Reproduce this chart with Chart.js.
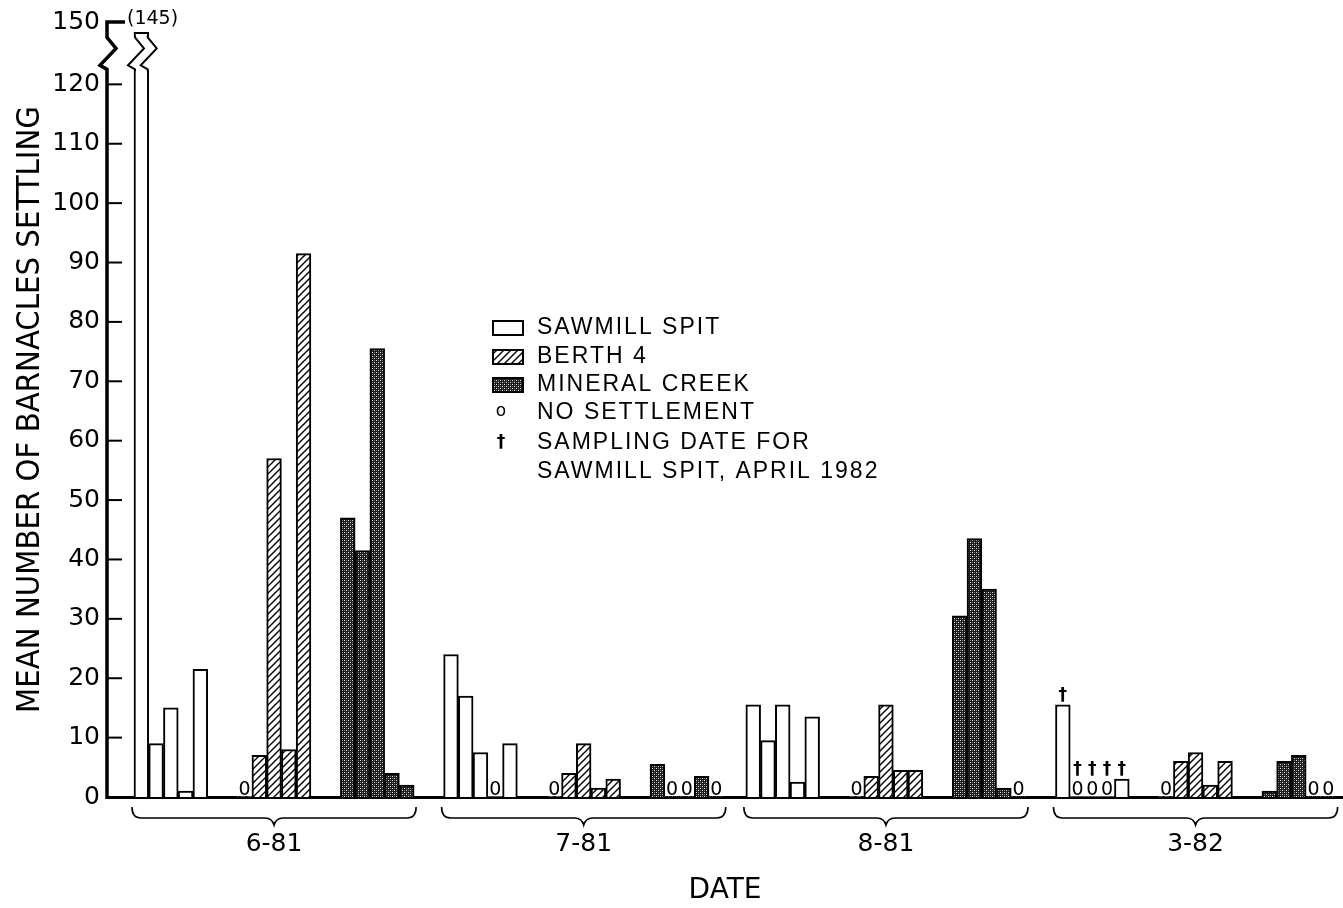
<!DOCTYPE html>
<html>
<head>
<meta charset="utf-8">
<title>Barnacle settlement</title>
<script src="https://cdn.jsdelivr.net/npm/chart.js@4.4.0/dist/chart.umd.min.js"></script>
<style>
  html, body { margin: 0; padding: 0; background: #fff; }
  canvas { display: block; }
</style>
</head>
<body>
<canvas id="chart" width="1343" height="908"></canvas>
<script>
const dates = ["6-81", "7-81", "8-81", "3-82"];
const stations = ["SAWMILL SPIT", "BERTH 4", "MINERAL CREEK"];

// five panels per station and date, mean count per panel
const sawmillSpit = [
  [145, 9, 15, 1, 21.5],
  [24, 17, 7.5, 0, 9],
  [15.5, 9.5, 15.5, 2.5, 13.5],
  [15.5, 0, 0, 0, 3],
];
const berth4 = [
  [0, 7, 57, 8, 91.5],
  [0, 4, 9, 1.5, 3],
  [0, 3.5, 15.5, 4.5, 4.5],
  [0, 6, 7.5, 2, 6],
];
const mineralCreek = [
  [47, 41.5, 75.5, 4, 2],
  [5.5, 0, 0, 3.5, 0],
  [30.5, 43.5, 35, 1.5, 0],
  [1, 6, 7, 0, 0],
];
// sawmill spit panels of 3-82 were collected in april 1982
const sampledApril1982 = [true, true, true, true, true];

const yTicks = [0, 10, 20, 30, 40, 50, 60, 70, 80, 90, 100, 110, 120, 150];
const yBreak = 120;
const yTop = 150;
const yTitle = "MEAN NUMBER OF BARNACLES SETTLING";
const xTitle = "DATE";
const legendLabels = ["SAWMILL SPIT", "BERTH 4", "MINERAL CREEK", "NO SETTLEMENT",
  "SAMPLING DATE FOR", "SAWMILL SPIT, APRIL 1982"];

// slot layout along the x axis
const perStation = 5;
const stationGap = 2;
const dateGaps = [2, 1.5, 2];

function slotOf(d, s, i) {
  let start = 0;
  for (let k = 0; k < d; k++) start += 3 * perStation + 2 * stationGap + dateGaps[k];
  return start + s * (perStation + stationGap) + i;
}

function toPoints(values, s) {
  const pts = [];
  values.forEach((row, d) => {
    row.forEach((v, i) => pts.push({ x: slotOf(d, s, i) + 0.5, y: v, date: d, rep: i }));
  });
  return pts;
}

// values above the break are squeezed into the short top segment
const squash = (v) => (v <= yBreak ? v : yBreak + (v - yBreak) * 0.35);
const unsquash = (v) => (v <= yBreak ? v : yBreak + (v - yBreak) / 0.35);

class BrokenScale extends Chart.LinearScale {
  getPixelForValue(value) {
    const lo = squash(this.min), hi = squash(this.max);
    return this.getPixelForDecimal((squash(value) - lo) / (hi - lo));
  }
  getValueForPixel(pixel) {
    const lo = squash(this.min), hi = squash(this.max);
    return unsquash(lo + this.getDecimalForPixel(pixel) * (hi - lo));
  }
}
BrokenScale.id = "broken";
BrokenScale.defaults = Chart.LinearScale.defaults;
Chart.register(BrokenScale);

function makeHatch() {
  const c = document.createElement("canvas");
  c.width = c.height = 7;
  const g = c.getContext("2d");
  g.fillStyle = "#fff";
  g.fillRect(0, 0, 7, 7);
  g.strokeStyle = "#000";
  g.lineWidth = 1.4;
  g.beginPath();
  g.moveTo(0, 7); g.lineTo(7, 0);
  g.moveTo(-1, 1); g.lineTo(1, -1);
  g.moveTo(6, 8); g.lineTo(8, 6);
  g.stroke();
  return g.createPattern(c, "repeat");
}

function makeDots() {
  const c = document.createElement("canvas");
  c.width = c.height = 4;
  const g = c.getContext("2d");
  g.fillStyle = "#1c1c1c";
  g.fillRect(0, 0, 4, 4);
  g.fillStyle = "#e0e0e0";
  g.fillRect(0, 0, 1, 1);
  g.fillRect(2, 2, 1, 1);
  g.fillStyle = "#7a7a7a";
  g.fillRect(2, 0, 1, 1);
  g.fillRect(0, 2, 1, 1);
  return g.createPattern(c, "repeat");
}

const fills = ["#fff", makeHatch(), makeDots()];
const numFont = '"DejaVu Sans", sans-serif';
const textFont = '"Liberation Sans", Arial, sans-serif';

// zigzag used to mark a break on a vertical edge (dx, dy from the lower end)
const zig = [[0, 0], [-7, -4], [9, -21], [0, -32]];

function drawBrace(ctx, x1, x2, y) {
  const h = 11, r = 9, mid = (x1 + x2) / 2;
  ctx.beginPath();
  ctx.moveTo(x1, y);
  ctx.quadraticCurveTo(x1, y + h, x1 + r, y + h);
  ctx.lineTo(mid - 9, y + h);
  ctx.quadraticCurveTo(mid - 2, y + h, mid, y + h + 7);
  ctx.quadraticCurveTo(mid + 2, y + h, mid + 9, y + h);
  ctx.lineTo(x2 - r, y + h);
  ctx.quadraticCurveTo(x2, y + h, x2, y);
  ctx.stroke();
}

const decorations = {
  id: "decorations",
  afterDatasetsDraw(chart) {
    const { ctx, chartArea: area, scales: { x, y } } = chart;
    const base = y.getPixelForValue(0);
    const yb = y.getPixelForValue(yBreak) - 15;
    const y150 = y.getPixelForValue(yTop);
    ctx.save();

    // broken bars
    chart.data.datasets.forEach((ds, di) => {
      chart.getDatasetMeta(di).data.forEach((bar, j) => {
        if (ds.data[j].y <= yBreak) return;
        const xl = bar.x - bar.width / 2 + 1, xr = bar.x + bar.width / 2 - 1;
        ctx.fillStyle = "#fff";
        ctx.fillRect(xl - 9, yb - 33, xr - xl + 22, 34);
        ctx.beginPath();
        zig.forEach(([dx, dy], k) => ctx[k ? "lineTo" : "moveTo"](xl + dx, yb + dy));
        [...zig].reverse().forEach(([dx, dy]) => ctx.lineTo(xr + dx, yb + dy));
        ctx.closePath();
        ctx.fillStyle = fills[di];
        ctx.fill();
        ctx.strokeStyle = "#000";
        ctx.lineWidth = 2;
        [xl, xr].forEach((xe) => {
          ctx.beginPath();
          ctx.moveTo(xe, yb + 2);
          zig.forEach(([dx, dy]) => ctx.lineTo(xe + dx, yb + dy));
          ctx.lineTo(xe, yb - 34);
          ctx.stroke();
        });
        // value of the broken bar, written beside the top of the axis
        ctx.fillStyle = "#000";
        ctx.font = "19px " + numFont;
        ctx.textAlign = "left";
        ctx.textBaseline = "middle";
        ctx.fillText("(" + ds.data[j].y + ")", area.left + 20, y150 - 3);
      });
    });

    // y axis line with its break, inner ticks
    const ax = area.left;
    ctx.strokeStyle = "#000";
    ctx.lineWidth = 3.5;
    ctx.beginPath();
    ctx.moveTo(ax, base + 2);
    zig.forEach(([dx, dy]) => ctx.lineTo(ax + dx, yb + dy));
    ctx.lineTo(ax, y150);
    ctx.lineTo(ax + 18, y150);
    ctx.stroke();
    ctx.lineWidth = 2;
    yTicks.forEach((v) => {
      if (v === 0 || v > yBreak) return;
      const py = y.getPixelForValue(v);
      ctx.beginPath();
      ctx.moveTo(ax, py);
      ctx.lineTo(ax + 15, py);
      ctx.stroke();
    });

    // no settlement marks and sampling daggers
    ctx.fillStyle = "#000";
    ctx.textAlign = "center";
    chart.data.datasets.forEach((ds, di) => {
      chart.getDatasetMeta(di).data.forEach((bar, j) => {
        const p = ds.data[j];
        let top = bar.y;
        if (p.y === 0) {
          ctx.font = "19px " + numFont;
          ctx.textBaseline = "alphabetic";
          ctx.fillText("0", bar.x, base - 2);
          top = base - 18;
        }
        if (di === 0 && p.date === 3 && sampledApril1982[p.rep]) {
          ctx.font = "bold 17px " + numFont;
          ctx.textBaseline = "bottom";
          ctx.fillText("\u2020", bar.x, top - 1);
        }
      });
    });

    // braces and date labels
    ctx.lineWidth = 1.6;
    dates.forEach((label, d) => {
      const x1 = x.getPixelForValue(slotOf(d, 0, 0)) - 2;
      const x2 = x.getPixelForValue(slotOf(d, 2, perStation - 1) + 1) + 2;
      drawBrace(ctx, x1, x2, base + 10);
      ctx.font = "25px " + numFont;
      ctx.textBaseline = "middle";
      ctx.fillText(label, (x1 + x2) / 2, base + 47);
    });

    // legend
    const lx = 493, rows = [328, 357, 385, 413, 443, 472];
    ctx.textAlign = "left";
    ctx.textBaseline = "middle";
    ctx.lineWidth = 2;
    for (let s = 0; s < 3; s++) {
      ctx.fillStyle = fills[s];
      ctx.fillRect(lx, rows[s] - 7, 30, 14);
      ctx.strokeRect(lx, rows[s] - 7, 30, 14);
    }
    ctx.fillStyle = "#000";
    ctx.textAlign = "center";
    ctx.font = "17px " + numFont;
    ctx.fillText("o", lx + 8, rows[3] - 1);
    ctx.font = "bold 17px " + numFont;
    ctx.fillText("\u2020", lx + 8, rows[4]);
    ctx.textAlign = "left";
    ctx.font = "23px " + textFont;
    ctx.letterSpacing = "2px";
    legendLabels.forEach((t, k) => ctx.fillText(t, lx + 44, rows[k]));
    ctx.restore();
  },
};

const datasets = [sawmillSpit, berth4, mineralCreek].map((values, s) => ({
  label: stations[s],
  data: toPoints(values, s),
  backgroundColor: fills[s],
  borderColor: "#000",
  borderWidth: (c) => (c.raw && c.raw.y === 0 ? 0 : 2),
  grouped: false,
  barPercentage: 1,
  categoryPercentage: 1,
}));

new Chart(document.getElementById("chart"), {
  type: "bar",
  data: { datasets },
  options: {
    responsive: false,
    animation: false,
    layout: { padding: { top: 17, right: 0, bottom: 0, left: 0 } },
    plugins: { legend: { display: false }, tooltip: { enabled: false } },
    scales: {
      x: {
        type: "linear",
        offset: false,
        min: -1.83,
        max: 82,
        ticks: { display: false, stepSize: 10 },
        grid: { display: false, drawTicks: false },
        border: { display: true, color: "#000", width: 3 },
        title: {
          display: true,
          text: xTitle,
          color: "#000",
          font: { family: numFont, size: 28 },
          padding: { top: 0, bottom: 0 },
        },
        afterFit: (s) => { s.height = 111; },
      },
      y: {
        type: "broken",
        min: 0,
        max: yTop,
        afterBuildTicks: (s) => { s.ticks = yTicks.map((v) => ({ value: v })); },
        ticks: {
          color: "#000",
          padding: 7,
          autoSkip: false,
          font: { family: numFont, size: 25 },
          callback: (v) => String(v),
        },
        grid: { display: false, drawTicks: false },
        border: { display: false },
        title: {
          display: true,
          text: yTitle,
          color: "#000",
          font: { family: '"DejaVu Sans Condensed", "Liberation Sans Narrow", "DejaVu Sans", sans-serif', size: 32.5 },
          padding: { top: 11, bottom: 0 },
        },
        afterFit: (s) => { s.width = 107; },
      },
    },
  },
  plugins: [decorations],
});
</script>
</body>
</html>
